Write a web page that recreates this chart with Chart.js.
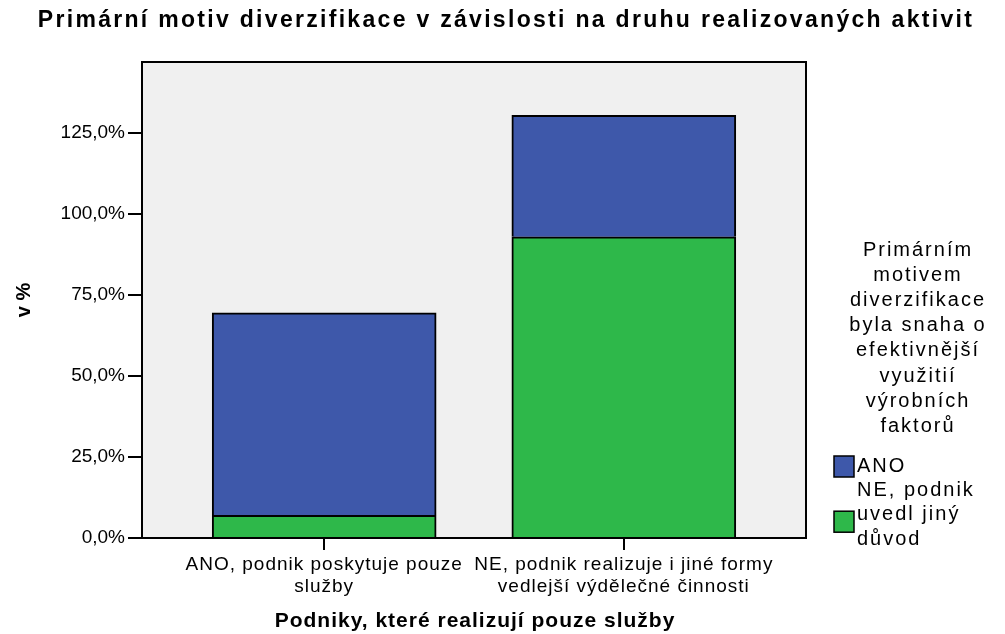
<!DOCTYPE html>
<html lang="cs">
<head>
<meta charset="UTF-8">
<title>Primární motiv diverzifikace</title>
<script src="https://cdn.jsdelivr.net/npm/chart.js@4.4.1/dist/chart.umd.min.js"></script>
<style>
    html, body { margin: 0; padding: 0; background: #ffffff; }
    #chartBox { width: 1005px; height: 634px; }
</style>
</head>
<body>
<div id="chartBox"><canvas id="barChart" width="1005" height="634"></canvas></div>
<script>
// Categories on the x axis (each one split into lines)
const categories = [
    ["ANO, podnik poskytuje pouze", "služby"],
    ["NE, podnik realizuje i jiné formy", "vedlejší výdělečné činnosti"],
];

// Share of answers in % (each series sums to 100 % over the categories)
const anoValues = [62.5, 37.5];
const neValues = [7.0, 93.0];

const seriesLabels = {
    ano: ["ANO"],
    ne: ["NE, podnik", "uvedl jiný", "důvod"],
};

const yTickValues = [0, 25, 50, 75, 100, 125];

const chartTitle = "Primární motiv diverzifikace v závislosti na druhu realizovaných aktivit";
const xTitle = "Podniky, které realizují pouze služby";
const yTitle = "v %";
const legendTitle = [
    "Primárním",
    "motivem",
    "diverzifikace",
    "byla snaha o",
    "efektivnější",
    "využitií",
    "výrobních",
    "faktorů",
];

const CHART_COLORS = {
    blue: "rgb(62, 88, 170)",
    green: "rgb(46, 184, 74)",
    plot: "rgb(240, 240, 240)",
    ink: "#000000",
};

const FONT = '"Liberation Sans", Arial, sans-serif';
Chart.defaults.font.family = FONT;
Chart.defaults.color = CHART_COLORS.ink;

// Turns 125 into "125,0%"
function formatPercent(value) {
    return value.toFixed(1).replace(".", ",") + "%";
}

// Grey plot background and the black frame around it
const plotFrame = {
    id: "plotFrame",
    beforeDraw(chart) {
        const {ctx, chartArea} = chart;
        ctx.save();
        ctx.fillStyle = CHART_COLORS.plot;
        ctx.fillRect(chartArea.left, chartArea.top, chartArea.width, chartArea.height);
        ctx.restore();
    },
    afterDatasetsDraw(chart) {
        const {ctx, chartArea} = chart;
        ctx.save();
        ctx.strokeStyle = CHART_COLORS.ink;
        ctx.lineWidth = 2;
        ctx.strokeRect(chartArea.left, chartArea.top, chartArea.width, chartArea.height);
        ctx.restore();
        // x axis labels are drawn after this point (ticks.z = 1), a bit wider spaced
        ctx.letterSpacing = "1px";
    },
};

// Chart title, x axis title and the legend on the right
const sideLegend = {
    id: "sideLegend",
    afterDraw(chart) {
        const {ctx, chartArea} = chart;
        ctx.letterSpacing = "0px";
        ctx.save();
        ctx.fillStyle = CHART_COLORS.ink;
        ctx.textBaseline = "middle";
        ctx.textAlign = "center";

        ctx.font = "bold 23px " + FONT;
        ctx.letterSpacing = "2.3px";
        ctx.fillText(chartTitle, 506, 21);

        ctx.font = "bold 21px " + FONT;
        ctx.letterSpacing = "1px";
        ctx.fillText(xTitle, (chartArea.left + chartArea.right) / 2 + 1, 621);

        ctx.font = "20px " + FONT;
        ctx.letterSpacing = "2px";
        legendTitle.forEach((line, i) => {
            ctx.fillText(line, 918, 250 + i * 25.2);
        });

        // the series on top of the stack comes first
        const items = chart.data.datasets.slice().reverse();
        let y = 466;
        items.forEach((ds) => {
            const lines = ds.legendLines;
            const boxTop = lines.length > 1 ? y + 21 : y - 10;
            ctx.fillStyle = ds.backgroundColor;
            ctx.fillRect(834, boxTop, 20, 21);
            ctx.strokeStyle = CHART_COLORS.ink;
            ctx.lineWidth = 1.5;
            ctx.strokeRect(834, boxTop, 20, 21);

            ctx.fillStyle = CHART_COLORS.ink;
            ctx.textAlign = "left";
            lines.forEach((line, i) => {
                ctx.fillText(line, 857, y + i * 24.5);
            });
            y += lines.length * 24.2;
        });
        ctx.restore();
        ctx.letterSpacing = "0px";
    },
};

document.addEventListener("DOMContentLoaded", function () {
    const chartData = {
        datasets: [
            {
                label: "NE",
                legendLines: seriesLabels.ne,
                data: neValues.map((v, i) => ({x: i, y: v})),
                backgroundColor: CHART_COLORS.green,
                borderColor: CHART_COLORS.ink,
                borderWidth: 2,
                barThickness: 224,
                grouped: false,
            },
            {
                label: "ANO",
                legendLines: seriesLabels.ano,
                data: anoValues.map((v, i) => ({x: i, y: v})),
                backgroundColor: CHART_COLORS.blue,
                borderColor: CHART_COLORS.ink,
                borderWidth: 2,
                barThickness: 224,
                grouped: false,
            },
        ],
    };

    new Chart(document.getElementById("barChart"), {
        type: "bar",
        data: chartData,
        plugins: [plotFrame, sideLegend],
        options: {
            responsive: false,
            animation: false,
            layout: {padding: {left: 0, right: 199, top: 62, bottom: 0}},
            plugins: {
                legend: {display: false},
                tooltip: {enabled: false},
                title: {display: false},
            },
            scales: {
                x: {
                    type: "linear",
                    offset: false,
                    min: -0.608,
                    max: 1.608,
                    afterBuildTicks(scale) {
                        scale.ticks = categories.map((c, i) => ({value: i}));
                    },
                    afterFit(scale) {
                        scale.height = 96;
                    },
                    ticks: {
                        callback: (value) => categories[value],
                        color: CHART_COLORS.ink,
                        font: {size: 19},
                        padding: 3,
                        autoSkip: false,
                        maxRotation: 0,
                        z: 1,
                    },
                    grid: {
                        offset: false,
                        drawOnChartArea: false,
                        drawTicks: true,
                        tickLength: 12,
                        color: CHART_COLORS.ink,
                        lineWidth: 2,
                    },
                    border: {display: true, color: CHART_COLORS.ink, width: 2},
                    title: {display: false},
                },
                y: {
                    stacked: true,
                    min: 0,
                    max: 147,
                    afterBuildTicks(scale) {
                        scale.ticks = yTickValues.map((v) => ({value: v}));
                    },
                    afterFit(scale) {
                        scale.width = 142;
                    },
                    ticks: {
                        callback: (value) => formatPercent(value),
                        color: CHART_COLORS.ink,
                        font: {size: 19},
                        padding: 3,
                    },
                    grid: {
                        drawOnChartArea: false,
                        drawTicks: true,
                        tickLength: 14,
                        color: CHART_COLORS.ink,
                        lineWidth: 2,
                    },
                    border: {display: true, color: CHART_COLORS.ink, width: 2},
                    title: {
                        display: true,
                        text: yTitle,
                        color: CHART_COLORS.ink,
                        font: {size: 20, weight: "bold"},
                        padding: {top: 12, bottom: 0},
                    },
                },
            },
        },
    });
});
</script>
</body>
</html>
